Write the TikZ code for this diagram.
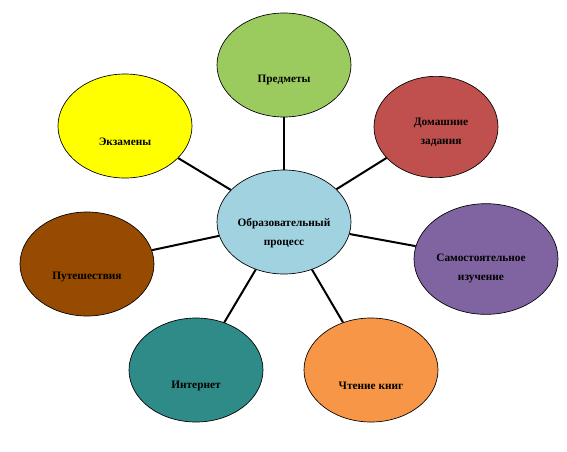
\documentclass[tikz,border=0pt]{standalone}
\usepackage{fontspec}
\setmainfont{Liberation Serif}
\usetikzlibrary{shapes.geometric}
\definecolor{cBlue}{HTML}{A0D2E0}
\definecolor{cGreen}{HTML}{9BCB5F}
\definecolor{cRed}{HTML}{C0504D}
\definecolor{cPurple}{HTML}{8064A2}
\definecolor{cOrange}{HTML}{F79646}
\definecolor{cTeal}{HTML}{2E8B88}
\definecolor{cBrown}{HTML}{964B00}
\definecolor{cYellow}{HTML}{FFFF00}
\tikzset{
  bub/.style={ellipse, draw=black, line width=0.5pt, inner sep=0pt,
    minimum width=100.5pt, minimum height=78pt},
  txt/.style={font=\fontsize{8.5}{14}\selectfont\bfseries, align=center, inner sep=0pt},
  link/.style={draw=black, line width=1.5pt}
}
\begin{document}
\begin{tikzpicture}[x=0.75pt,y=-0.75pt]
\useasboundingbox (0,0) rectangle (567,451);
\node[bub, fill=cBlue]   (c) at (284,222) {};
\node[bub, fill=cGreen]  (p) at (284,65) {};
\node[bub, fill=cRed, minimum width=93pt, minimum height=76pt] (d) at (436,127) {};
\node[bub, fill=cPurple, minimum width=108pt, minimum height=83pt] (s) at (486,259) {};
\node[bub, fill=cOrange] (k) at (371,370) {};
\node[bub, fill=cTeal]   (i) at (196,370) {};
\node[bub, fill=cBrown]  (t) at (87,264) {};
\node[bub, fill=cYellow] (e) at (125,126) {};
\foreach \n in {p,d,s,k,i,t,e} { \path[link] (c) -- (\n); }
\node[txt] (tc) at (284,233) {Образовательный\\процесс};
\node[txt] (tp) at (284,80) {Предметы};
\node[txt] (td) at (441,132.5) {Домашние\\задания};
\node[txt] (ts) at (481,268.5) {Самостоятельное\\изучение};
\node[txt] (tk) at (371,386) {Чтение книг};
\node[txt] (ti) at (196,386) {Интернет};
\node[txt] (tt) at (87,277) {Путешествия};
\node[txt] (te) at (125,142) {Экзамены};
\end{tikzpicture}
\end{document}
